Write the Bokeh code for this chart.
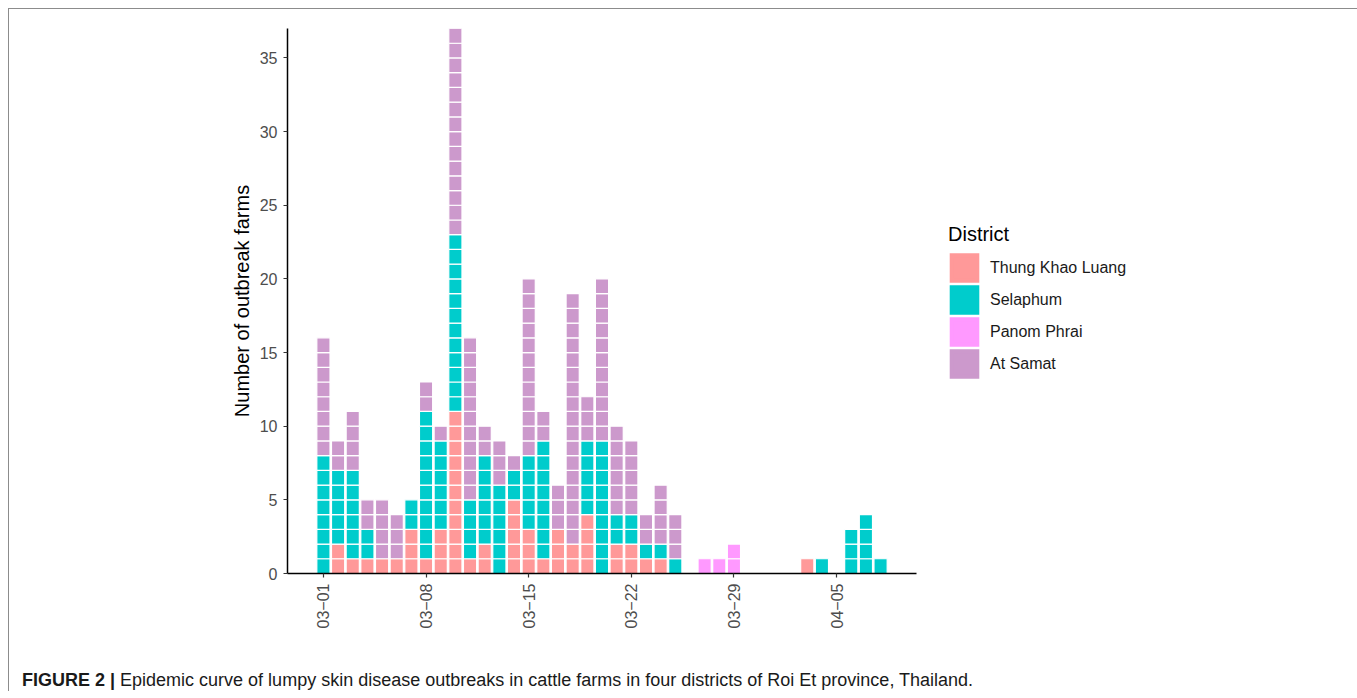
import math
from bokeh.plotting import figure
from bokeh.layouts import column
from bokeh.models import Legend, LegendItem, FixedTicker, ColumnDataSource, Div
from bokeh.embed import file_html
from bokeh.resources import INLINE

# ---------------- data ----------------
# day index 0 = 03-01 ... 38 = 04-08
day_index = list(range(39))
thung_khao_luang = [0, 2, 1, 1, 1, 1, 3, 1, 3, 11, 1, 2, 0, 5, 3, 1, 3, 2, 4, 0,
                    2, 2, 1, 1, 0, 0, 0, 0, 0, 0, 0, 0, 0, 1, 0, 0, 0, 0, 0]
selaphum = [8, 5, 6, 2, 0, 0, 2, 10, 6, 12, 4, 6, 6, 2, 5, 8, 0, 0, 5, 9,
            2, 2, 1, 1, 1, 0, 0, 0, 0, 0, 0, 0, 0, 0, 1, 0, 3, 4, 1]
panom_phrai = [0, 0, 0, 0, 0, 0, 0, 0, 0, 0, 0, 0, 0, 0, 0, 0, 0, 0, 0, 0,
               0, 0, 0, 0, 0, 0, 1, 1, 2, 0, 0, 0, 0, 0, 0, 0, 0, 0, 0]
at_samat = [8, 2, 4, 2, 4, 3, 0, 2, 1, 14, 11, 2, 3, 1, 12, 2, 3, 17, 3, 11,
            6, 5, 2, 4, 3, 0, 0, 0, 0, 0, 0, 0, 0, 0, 0, 0, 0, 0, 0]

districts = ["Thung Khao Luang", "Selaphum", "Panom Phrai", "At Samat"]
colors = ["#FF9999", "#00CCCC", "#FF99FF", "#CC99CC"]
x_tick_days = [0, 7, 14, 21, 28, 35]
x_tick_labels = ["03\u221201", "03\u221208", "03\u221215", "03\u221222", "03\u221229", "04\u221205"]
y_ticks = [0, 5, 10, 15, 20, 25, 30, 35]
caption_bold = "FIGURE 2 |"
caption_text = ("Epidemic curve of lumpy skin disease outbreaks in cattle farms in four "
                "districts of Roi Et province, Thailand.")

FONT = "Liberation Sans"

p = figure(frame_width=629, frame_height=545, output_backend="svg", toolbar_location=None,
           x_range=(-2.45, 40.45), y_range=(0, 37),
           min_border_left=278, min_border_right=0,
           min_border_top=19, min_border_bottom=76)
p.grid.visible = False
p.outline_line_color = None
p.background_fill_color = "white"
p.border_fill_color = "white"

# ---------------- stacked unit cells ----------------
series = [thung_khao_luang, selaphum, panom_phrai, at_samat]
base = [0] * len(day_index)
legend_items = []
for name, col, counts in zip(districts, colors, series):
    xs, ys = [], []
    for d, c in zip(day_index, counts):
        for j in range(c):
            xs.append(d)
            ys.append(base[d] + j + 0.5)
        base[d] += c
    src = ColumnDataSource(dict(x=xs, y=ys))
    p.rect(x="x", y="y", width=0.9, height=1.0, source=src,
           fill_color=col, line_color="white", line_width=1.2)
    # legend key: same data, hidden in the plot, drawn only in the legend
    key = p.rect(x="x", y="y", width=0.9, height=1.0, source=src,
                 fill_color=col, line_color=col, line_width=4,
                 line_join="miter", visible=False)
    legend_items.append(LegendItem(label=name, renderers=[key]))

# ---------------- axes ----------------
for ax in (p.xaxis[0], p.yaxis[0]):
    ax.axis_line_color = "black"
    ax.axis_line_width = 1.5
    ax.major_tick_line_color = "#333333"
    ax.major_tick_line_width = 1.2
    ax.major_tick_in = 0
    ax.major_tick_out = 4
    ax.minor_tick_line_color = None
    ax.major_label_text_font = FONT
    ax.major_label_text_font_size = "16px"
    ax.major_label_text_color = "#4D4D4D"
    ax.axis_label_text_font = FONT
    ax.axis_label_text_font_style = "normal"
    ax.axis_label_text_color = "black"
    ax.axis_label_text_font_size = "20px"

p.yaxis[0].ticker = FixedTicker(ticks=y_ticks)
p.yaxis[0].axis_label = "Number of outbreak farms"
p.yaxis[0].major_label_standoff = 6
p.yaxis[0].axis_label_standoff = 4

p.xaxis[0].ticker = FixedTicker(ticks=x_tick_days)
p.xaxis[0].major_label_overrides = {d: t for d, t in zip(x_tick_days, x_tick_labels)}
p.xaxis[0].major_label_orientation = math.pi / 2
p.xaxis[0].major_label_standoff = 6

# ---------------- legend ----------------
legend = Legend(items=legend_items, location="center_left", title="District",
                orientation="vertical", click_policy="none")
legend.title_text_font = FONT
legend.title_text_font_size = "20px"
legend.title_text_font_style = "normal"
legend.title_text_color = "black"
legend.title_standoff = 6
legend.label_text_font = FONT
legend.label_text_font_size = "16px"
legend.label_text_color = "#1A1A1A"
legend.glyph_width = 32
legend.glyph_height = 32
legend.spacing = 0
legend.label_standoff = 10
legend.padding = 0
legend.margin = 32
legend.border_line_color = None
legend.background_fill_alpha = 0
legend.inactive_fill_alpha = 0
p.add_layout(legend, "right")

# ---------------- caption ----------------
cap = Div(text="<b>" + caption_bold + "</b> " + caption_text,
          width=1327, height=22, margin=(20, 0, 0, 13),
          styles={"font-family": FONT, "font-size": "18px", "color": "#1A1A1A",
                  "line-height": "22px", "white-space": "nowrap"})

border = "1px solid #8C8C8C"
layout = column(p, cap, margin=(8, 0, 0, 8),
                styles={"border-top": border, "border-left": border, "border-right": border})

open("out.html", "w").write(file_html(layout, INLINE))
